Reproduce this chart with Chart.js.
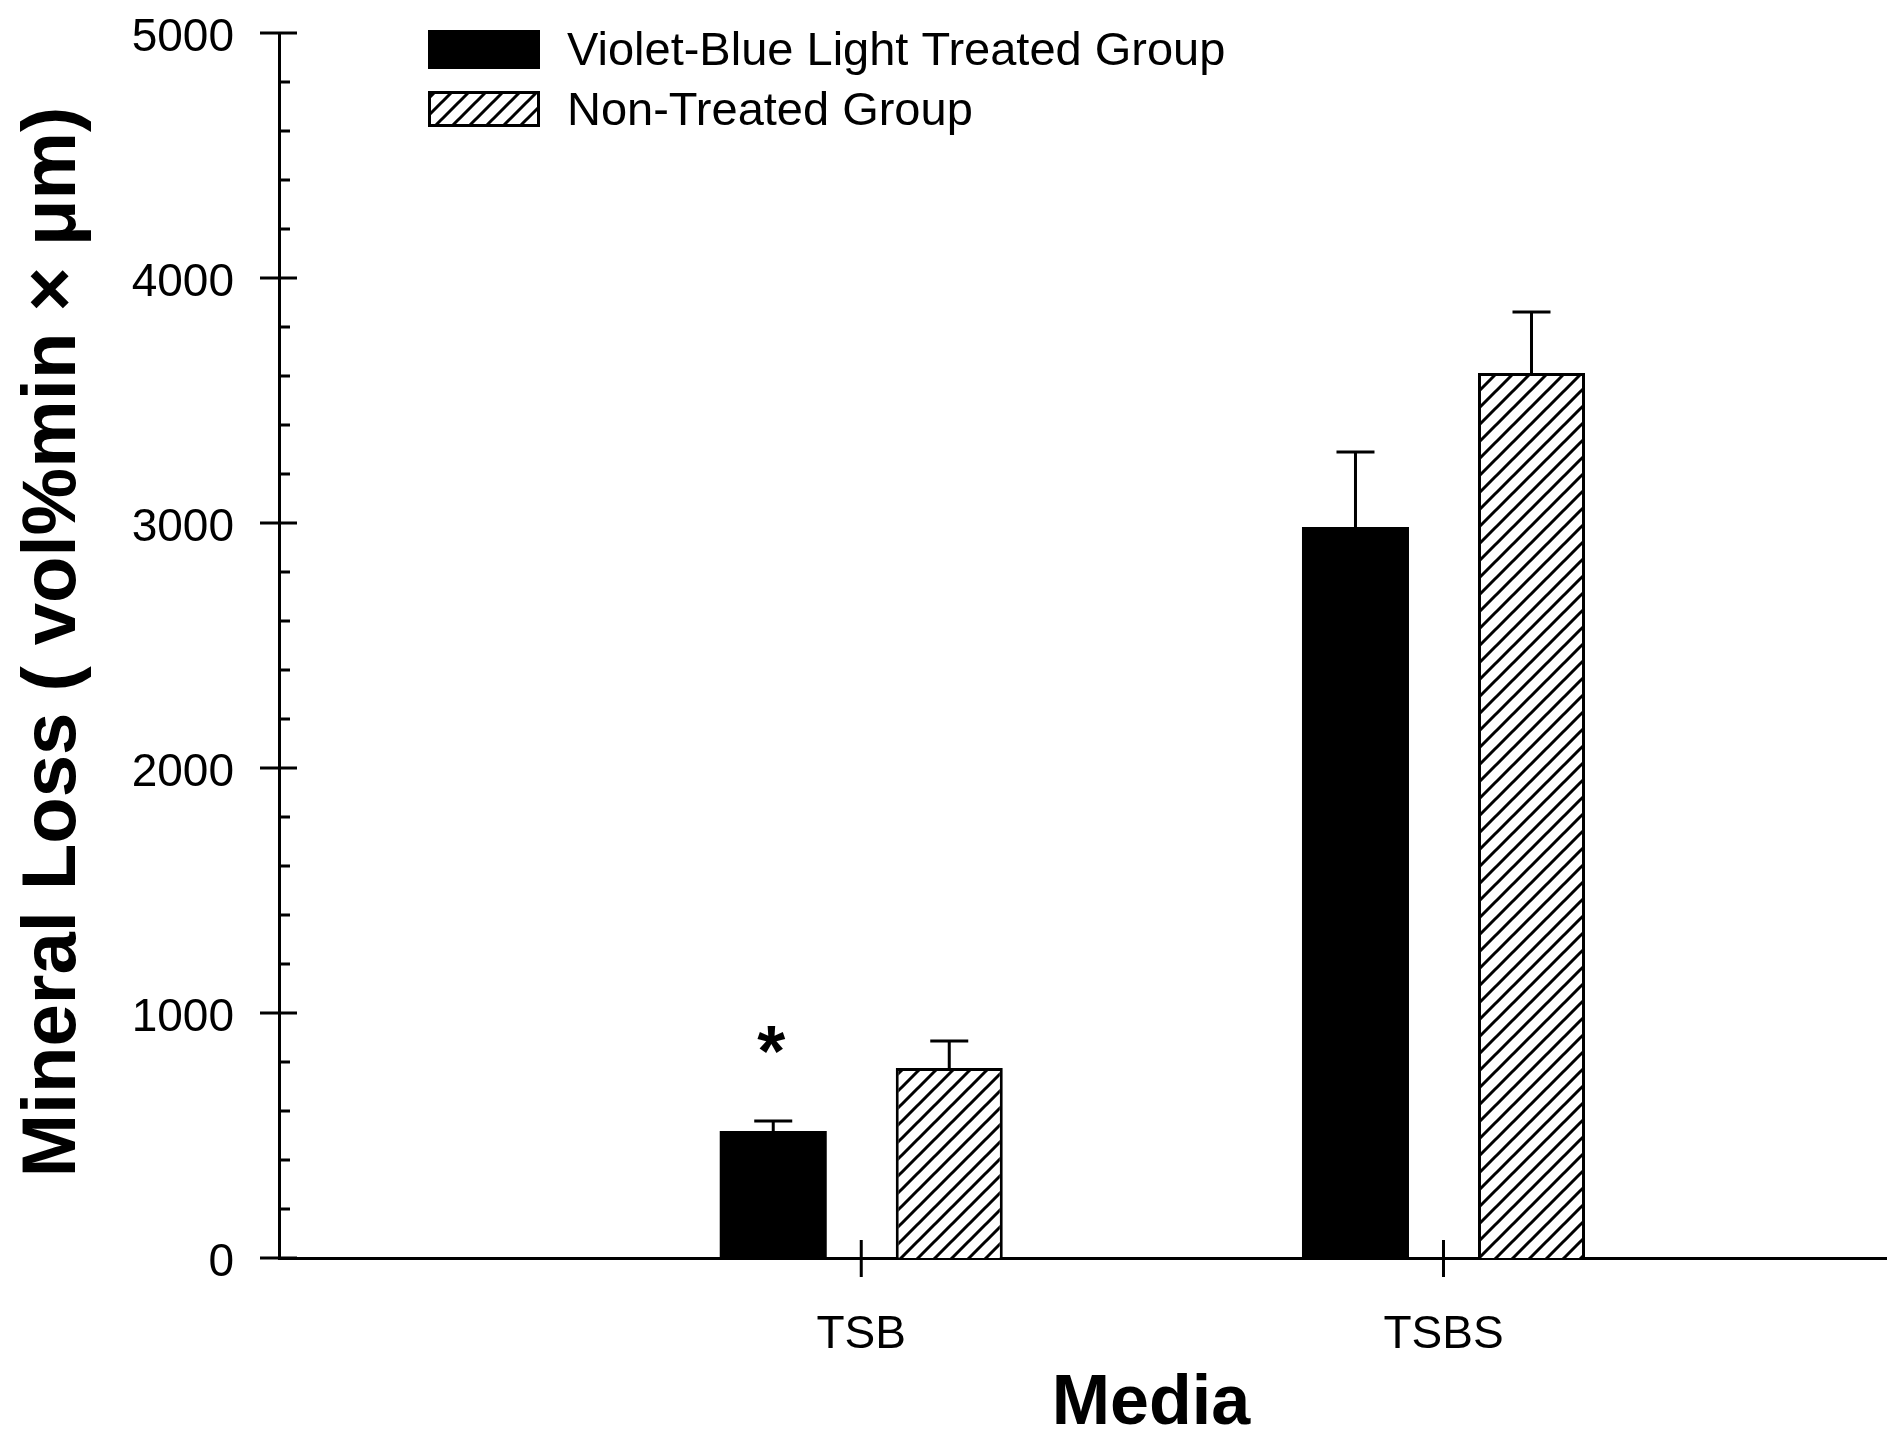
<!doctype html>
<html lang="en">
  <head>
    <script src="https://cdn.jsdelivr.net/npm/chart.js"></script>
    <meta charset="UTF-8" />
    <title>Mineral Loss by Media</title>
    <style>
      html, body { margin: 0; padding: 0; background: #fff; }
      #wrap { width: 1901px; height: 1440px; }
    </style>
  </head>
  <body>
    <div id="wrap"><canvas id="myChart" width="1901" height="1440"></canvas></div>

    <script>
      // data
      const media = ["TSB", "TSBS"];
      const treatedMean = [518, 2984];
      const treatedErr = [41, 306];
      const nonTreatedMean = [776, 3612];
      const nonTreatedErr = [110, 249];
      const significance = ["*", ""];
      const seriesNames = ["Violet-Blue Light Treated Group", "Non-Treated Group"];
      const yTickValues = [0, 1000, 2000, 3000, 4000, 5000];

      const FONT = "'Liberation Sans', Arial, sans-serif";

      // diagonal hatch fill
      function makeHatch() {
        const s = 17;
        const c = document.createElement("canvas");
        c.width = s;
        c.height = s;
        const g = c.getContext("2d");
        g.fillStyle = "#fff";
        g.fillRect(0, 0, s, s);
        g.strokeStyle = "#000";
        g.lineWidth = 3;
        g.beginPath();
        g.moveTo(-2, s + 2);
        g.lineTo(s + 2, -2);
        g.moveTo(-2, 2);
        g.lineTo(2, -2);
        g.moveTo(s - 2, s + 2);
        g.lineTo(s + 2, s - 2);
        g.stroke();
        return g.createPattern(c, "repeat");
      }
      const hatch = makeHatch();

      // tick marks: major ticks cross the axis, minor ticks point inwards
      const tickMarks = {
        id: "tickMarks",
        afterDraw(chart) {
          const { ctx, chartArea, scales } = chart;
          const y = scales.y, x = scales.x;
          ctx.save();
          ctx.strokeStyle = "#000";
          ctx.lineWidth = 3;
          ctx.beginPath();
          for (let v = 0; v <= 5000; v += 200) {
            const py = y.getPixelForValue(v);
            if (yTickValues.includes(v)) {
              ctx.moveTo(chartArea.left - 19, py);
              ctx.lineTo(chartArea.left + 18, py);
            } else {
              ctx.moveTo(chartArea.left, py);
              ctx.lineTo(chartArea.left + 11, py);
            }
          }
          media.forEach((_, i) => {
            const px = x.getPixelForValue(i + 1);
            ctx.moveTo(px, chartArea.bottom - 18);
            ctx.lineTo(px, chartArea.bottom + 19);
          });
          ctx.stroke();
          ctx.restore();
        },
      };

      // upward error bars + significance star
      const errorBars = {
        id: "errorBars",
        afterDatasetsDraw(chart) {
          const { ctx } = chart;
          const y = chart.scales.y;
          const errs = [treatedErr, nonTreatedErr];
          ctx.save();
          ctx.strokeStyle = "#000";
          ctx.lineWidth = 3;
          chart.data.datasets.forEach((ds, di) => {
            const meta = chart.getDatasetMeta(di);
            meta.data.forEach((bar, i) => {
              const top = y.getPixelForValue(ds.data[i].y);
              const end = y.getPixelForValue(ds.data[i].y + errs[di][i]);
              ctx.beginPath();
              ctx.moveTo(bar.x, top);
              ctx.lineTo(bar.x, end);
              ctx.moveTo(bar.x - 19, end);
              ctx.lineTo(bar.x + 19, end);
              ctx.stroke();
              if (di === 0 && significance[i]) {
                ctx.fillStyle = "#000";
                ctx.font = "bold 72px " + FONT;
                ctx.textAlign = "center";
                ctx.textBaseline = "alphabetic";
                ctx.fillText(significance[i], bar.x - 2, end - 45);
              }
            });
          });
          ctx.restore();
        },
      };

      // legend boxes and axis titles
      const decorations = {
        id: "decorations",
        afterDraw(chart) {
          const { ctx } = chart;
          ctx.save();
          ctx.fillStyle = "#000";
          ctx.fillRect(428, 30, 112, 39);
          ctx.fillStyle = hatch;
          ctx.fillRect(428, 91, 112, 36);
          ctx.strokeStyle = "#000";
          ctx.lineWidth = 3;
          ctx.strokeRect(429.5, 92.5, 109, 33);

          ctx.fillStyle = "#000";
          ctx.font = "47px " + FONT;
          ctx.textAlign = "left";
          ctx.textBaseline = "middle";
          ctx.fillText(seriesNames[0], 567, 52);
          ctx.fillText(seriesNames[1], 567, 112);

          ctx.font = "bold 70px " + FONT;
          ctx.textAlign = "center";
          ctx.textBaseline = "alphabetic";
          ctx.fillText("Media", 1151, 1424);

          ctx.translate(75, 642);
          ctx.rotate(-Math.PI / 2);
          ctx.font = "bold 76px " + FONT;
          ctx.fillText("Mineral Loss ( vol%min \u00d7 \u03bcm)", 0, 0);
          ctx.restore();
        },
      };

      const ctx = document.getElementById("myChart").getContext("2d");
      new Chart(ctx, {
        type: "bar",
        data: {
          datasets: [
            {
              label: seriesNames[0],
              data: media.map((_, i) => ({ x: i + 1, y: treatedMean[i] })),
              backgroundColor: "#000",
              borderWidth: 0,
            },
            {
              label: seriesNames[1],
              data: media.map((_, i) => ({ x: i + 1, y: nonTreatedMean[i] })),
              backgroundColor: hatch,
              borderColor: "#000",
              borderWidth: 3,
            },
          ],
        },
        options: {
          responsive: false,
          animation: false,
          devicePixelRatio: 1,
          categoryPercentage: 0.6046,
          barPercentage: 0.608,
          layout: { autoPadding: false, padding: { top: 33, right: 15, left: 0, bottom: 0 } },
          plugins: { legend: { display: false }, tooltip: { enabled: false } },
          scales: {
            x: {
              type: "linear",
              offset: false,
              min: 0,
              max: 2.76,
              grid: { display: false, offset: false },
              border: { display: true, color: "#000", width: 3 },
              afterBuildTicks: (scale) => {
                scale.ticks = media.map((_, i) => ({ value: i + 1 }));
              },
              afterFit: (scale) => {
                scale.height = 182;
                scale.paddingLeft = 0;
                scale.paddingRight = 0;
              },
              ticks: {
                autoSkip: false,
                maxRotation: 0,
                padding: 42,
                color: "#000",
                font: { family: FONT, size: 46 },
                callback: (value) => media[value - 1],
              },
            },
            y: {
              min: 0,
              max: 5000,
              grid: { display: false },
              border: { display: true, color: "#000", width: 3 },
              afterBuildTicks: (scale) => {
                scale.ticks = yTickValues.map((v) => ({ value: v }));
              },
              afterFit: (scale) => {
                scale.width = 279;
                scale.paddingTop = 0;
                scale.paddingBottom = 0;
              },
              ticks: {
                padding: 37,
                labelOffset: 5,
                color: "#000",
                font: { family: FONT, size: 46 },
                callback: (value) => String(value),
              },
            },
          },
        },
        plugins: [tickMarks, errorBars, decorations],
      });
    </script>
  </body>
</html>
